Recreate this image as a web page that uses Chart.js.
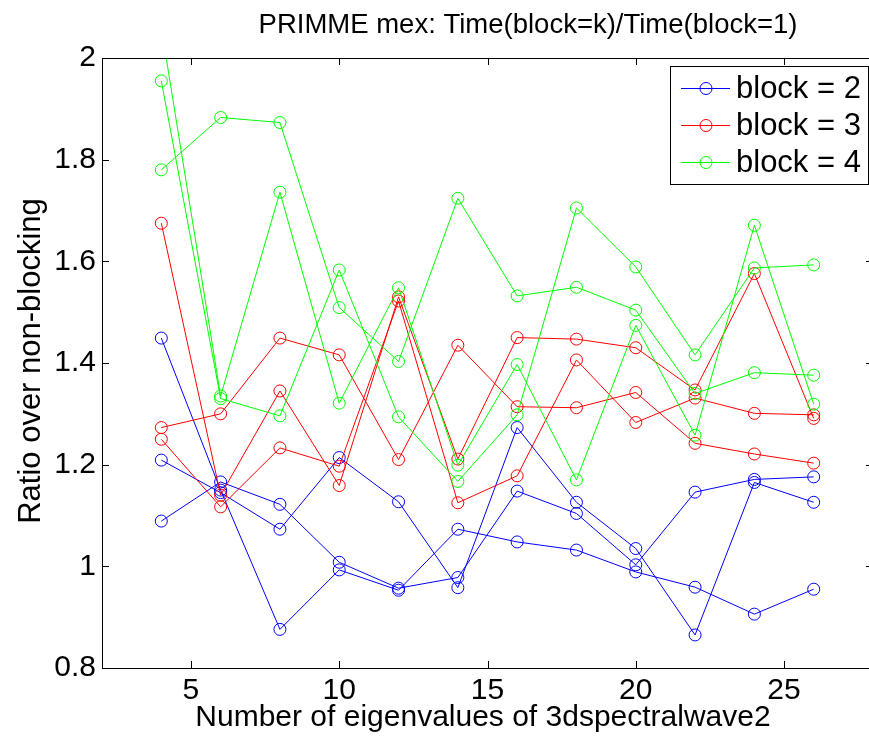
<!DOCTYPE html>
<html>
<head>
<meta charset="utf-8">
<script src="https://cdn.jsdelivr.net/npm/chart.js@4.4.0/dist/chart.umd.min.js"></script>
<style>
  html, body { margin: 0; padding: 0; background: #fff; }
  #wrap { width: 869px; height: 739px; overflow: hidden; }
</style>
</head>
<body>
<div id="wrap"><canvas id="myChart" width="880" height="739"></canvas></div>
<script>
// data
var xValues = [4, 6, 8, 10, 12, 14, 16, 18, 20, 22, 24, 26];

var block2a = [1.449, 1.150, 0.876, 0.993, 0.953, 1.073, 1.048, 1.032, 0.989, 0.959, 0.906, 0.955];
var block2b = [1.209, 1.145, 1.073, 1.214, 1.127, 0.958, 1.273, 1.126, 1.035, 0.865, 1.165, 1.126];
var block2c = [1.089, 1.166, 1.122, 1.008, 0.957, 0.978, 1.148, 1.104, 1.003, 1.146, 1.171, 1.176];

var block3a = [1.675, 1.140, 1.345, 1.159, 1.530, 1.211, 1.450, 1.447, 1.430, 1.347, 1.576, 1.291];
var block3b = [1.250, 1.117, 1.233, 1.197, 1.522, 1.125, 1.178, 1.406, 1.283, 1.331, 1.301, 1.298];
var block3c = [1.273, 1.300, 1.449, 1.416, 1.210, 1.435, 1.314, 1.312, 1.342, 1.242, 1.221, 1.203];

var block4a = [2.060, 1.335, 1.736, 1.321, 1.548, 1.199, 1.397, 1.170, 1.474, 1.258, 1.671, 1.319];
var block4b = [1.955, 1.330, 1.296, 1.583, 1.294, 1.167, 1.298, 1.705, 1.589, 1.416, 1.587, 1.593];
var block4c = [1.780, 1.883, 1.873, 1.509, 1.403, 1.724, 1.532, 1.549, 1.504, 1.340, 1.381, 1.376];

var xTicks = [5, 10, 15, 20, 25];
var yTicks = [0.8, 1, 1.2, 1.4, 1.6, 1.8, 2];
var legendLabels = ["block = 2", "block = 3", "block = 4"];
var lineColors = ["#0000ff", "#ff0000", "#00ff00"];

var FONT = "'Liberation Sans', Arial, Helvetica, sans-serif";

function makeSet(label, values, color, order) {
  return {
    label: label,
    data: values.map(function (v, i) { return { x: xValues[i], y: v }; }),
    borderColor: color,
    backgroundColor: "rgba(0,0,0,0)",
    borderWidth: 1,
    pointStyle: "circle",
    pointRadius: 6,
    pointHoverRadius: 6,
    pointBorderWidth: 1,
    pointBackgroundColor: "rgba(0,0,0,0)",
    pointBorderColor: color,
    tension: 0,
    clip: 0,
    order: order
  };
}

// matlab style box, inward ticks, titles and legend
var matlabDeco = {
  id: "matlabDeco",
  afterDraw: function (chart) {
    var ctx = chart.ctx;
    var a = chart.chartArea;
    var xs = chart.scales.x, ys = chart.scales.y;
    ctx.save();
    ctx.strokeStyle = "#000";
    ctx.lineWidth = 1;
    ctx.beginPath();
    xTicks.forEach(function (t) {
      var px = Math.round(xs.getPixelForValue(t)) + 0.5;
      ctx.moveTo(px, a.bottom); ctx.lineTo(px, a.bottom - 7);
      ctx.moveTo(px, a.top); ctx.lineTo(px, a.top + 7);
    });
    yTicks.forEach(function (t) {
      var py = Math.round(ys.getPixelForValue(t)) + 0.5;
      ctx.moveTo(a.left, py); ctx.lineTo(a.left + 7, py);
      ctx.moveTo(a.right, py); ctx.lineTo(a.right - 7, py);
    });
    ctx.stroke();
    ctx.strokeRect(Math.round(a.left) + 0.5, Math.round(a.top) + 0.5, Math.round(a.right - a.left), Math.round(a.bottom - a.top));

    ctx.fillStyle = "#000";
    ctx.textAlign = "center";
    ctx.textBaseline = "middle";

    // title
    ctx.font = "27.5px " + FONT;
    ctx.fillText("PRIMME mex: Time(block=k)/Time(block=1)", 528, 25);

    // axis labels
    ctx.font = "30px " + FONT;
    ctx.fillText("Number of eigenvalues of 3dspectralwave2", 483, 718);
    ctx.save();
    ctx.translate(31, 361);
    ctx.rotate(-Math.PI / 2);
    ctx.font = "31px " + FONT;
    ctx.fillText("Ratio over non-blocking", 0, 0);
    ctx.restore();

    // legend
    var lx = 670, ly = 66, lw = 198, lh = 118;
    ctx.fillStyle = "#fff";
    ctx.fillRect(lx, ly, lw, lh);
    ctx.strokeStyle = "#000";
    ctx.strokeRect(lx + 0.5, ly + 0.5, lw, lh);
    var rows = [88, 125, 162];
    ctx.font = "31px " + FONT;
    legendLabels.forEach(function (lab, i) {
      var y = rows[i] + 0.5;
      ctx.strokeStyle = lineColors[i];
      ctx.beginPath();
      ctx.moveTo(681, y); ctx.lineTo(730, y);
      ctx.stroke();
      ctx.beginPath();
      ctx.arc(706, y, 6, 0, Math.PI * 2);
      ctx.stroke();
      ctx.fillStyle = "#000";
      ctx.textAlign = "left";
      ctx.textBaseline = "middle";
      ctx.fillText(lab, 736, rows[i] + 1);
    });
    ctx.restore();
  }
};

new Chart("myChart", {
  type: "line",
  data: {
    datasets: [
      makeSet(legendLabels[0], block2a, lineColors[0], 3),
      makeSet(legendLabels[0], block2b, lineColors[0], 3),
      makeSet(legendLabels[0], block2c, lineColors[0], 3),
      makeSet(legendLabels[1], block3a, lineColors[1], 2),
      makeSet(legendLabels[1], block3b, lineColors[1], 2),
      makeSet(legendLabels[1], block3c, lineColors[1], 2),
      makeSet(legendLabels[2], block4a, lineColors[2], 1),
      makeSet(legendLabels[2], block4b, lineColors[2], 1),
      makeSet(legendLabels[2], block4c, lineColors[2], 1)
    ]
  },
  options: {
    responsive: false,
    animation: false,
    devicePixelRatio: 1,
    layout: { padding: { top: 58, right: 5, left: 0, bottom: 0 } },
    plugins: {
      legend: { display: false },
      title: { display: false },
      tooltip: { enabled: false }
    },
    scales: {
      x: {
        type: "linear",
        min: 2,
        max: 28,
        afterBuildTicks: function (s) { s.ticks = xTicks.map(function (v) { return { value: v }; }); },
        afterFit: function (s) { s.height = 71; },
        grid: { display: false, drawTicks: false },
        border: { display: false },
        ticks: { color: "#000", font: { family: FONT, size: 30 }, padding: 5, maxRotation: 0 }
      },
      y: {
        min: 0.8,
        max: 2,
        afterBuildTicks: function (s) { s.ticks = yTicks.map(function (v) { return { value: v }; }); },
        afterFit: function (s) { s.width = 102; },
        grid: { display: false, drawTicks: false },
        border: { display: false },
        ticks: {
          color: "#000",
          font: { family: FONT, size: 30 },
          padding: 6,
          callback: function (v) { return String(Math.round(v * 10) / 10); }
        }
      }
    }
  },
  plugins: [matlabDeco]
});
</script>
</body>
</html>
